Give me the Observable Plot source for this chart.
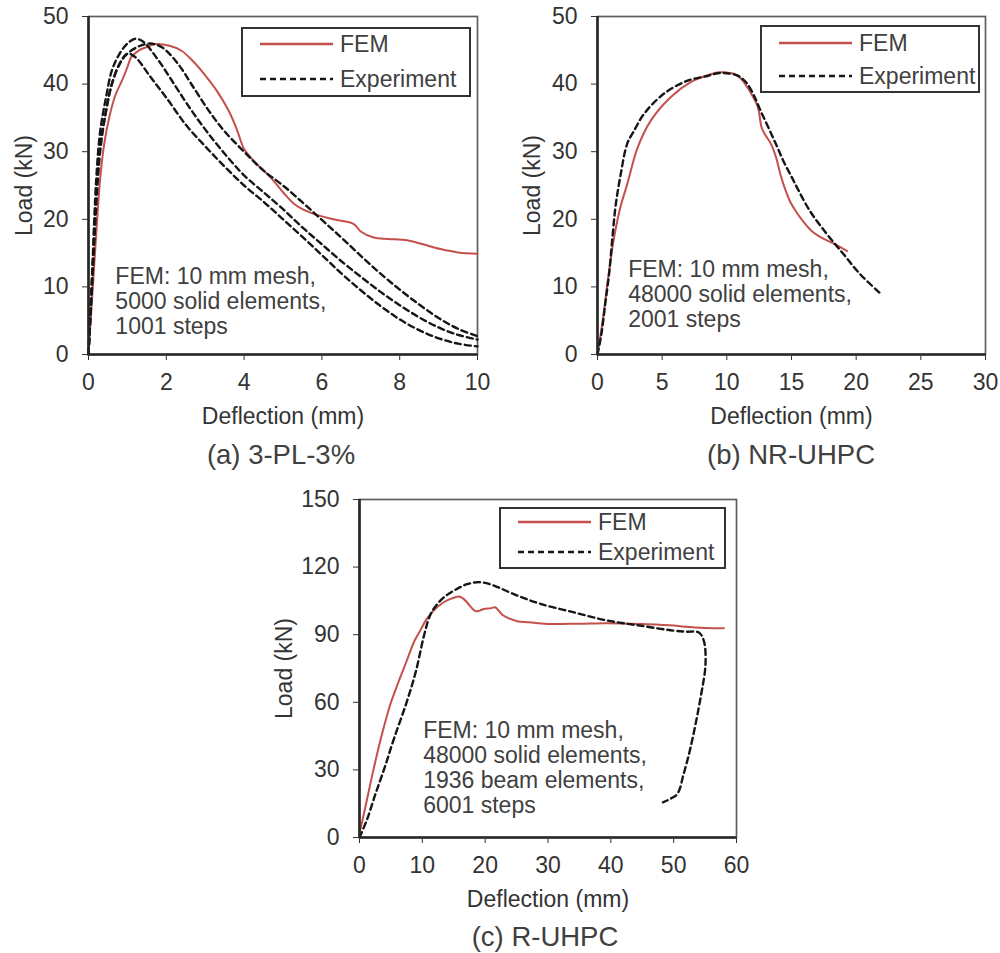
<!DOCTYPE html>
<html><head><meta charset="utf-8">
<script src="https://cdn.jsdelivr.net/npm/d3@7"></script>
<script src="https://cdn.jsdelivr.net/npm/@observablehq/plot@0.6"></script>
<style>
body{margin:0;background:#fff;}
#root{position:relative;width:1000px;height:953px;font-family:"Liberation Sans",Arial,sans-serif;color:#404040;overflow:hidden;}
.panel{position:absolute;}
.caption{position:absolute;font-size:27.5px;transform:translate(-50%,-50%);white-space:nowrap;line-height:1;}
.legend{position:absolute;border:2px solid #333;background:#fff;box-sizing:border-box;}
.legend .lab{position:absolute;font-size:23px;line-height:1;transform:translateY(-50%);white-space:nowrap;}
.legend svg{position:absolute;left:0;top:0;overflow:visible;}
</style></head><body><div id="root"></div>
<script>
// ---------- Panel (a) 3-PL-3% ----------
const aFemX = [0,0.1,0.2,0.3,0.4,0.55,0.7,0.86,1.0,1.1,1.3,1.46,1.7,2.06,2.4,2.7,3.0,3.3,3.6,3.8,3.94,4.0,4.3,4.68,5.0,5.28,5.5,5.79,6.3,6.82,7.0,7.33,7.7,8.19,8.6,9.05,9.5,10];
const aFemY = [0,9,18,26,31,35.5,38.5,40.5,42.5,44,45,45.4,45.9,45.7,44.9,43.3,41.3,39,36.1,33.5,31.2,30.4,28.3,26.2,24,22.3,21.5,20.8,20,19.3,18.2,17.3,17.1,16.9,16.3,15.6,15.1,14.9];
const aExp1X = [0,0.1,0.2,0.3,0.45,0.6,0.8,1.0,1.2,1.6,2.0,2.5,3.0,3.5,4.0,4.5,5.0,5.5,6.0,6.5,7.0,7.5,8.0,8.5,9.0,9.5,10];
const aExp1Y = [0,12,24,31,36,40,43,44.5,44,41,38,34,30.8,27.8,25,22.6,20,17.4,14.7,12,9.5,7.2,5.2,3.6,2.4,1.6,1.2];
const aExp2X = [0,0.1,0.2,0.3,0.45,0.6,0.8,1.0,1.2,1.4,1.8,2.2,2.6,3.0,3.5,4.0,4.5,5.0,5.5,6.0,6.5,7.0,7.5,8.0,8.5,9.0,9.5,10];
const aExp2Y = [0,13,26,33,38,42,44.5,46,46.7,46.3,43.5,40,36.5,33.3,29.7,26.5,24,21.5,18.8,16.3,13.8,11.5,9.3,7.3,5.5,4.0,2.9,2.2];
const aExp3X = [0,0.1,0.2,0.3,0.45,0.6,0.8,1.0,1.3,1.6,1.9,2.3,2.7,3.1,3.5,4.0,4.5,5.0,5.5,6.0,6.5,7.0,7.5,8.0,8.5,9.0,9.5,10];
const aExp3Y = [0,11,22,30,36,40,43,44.5,45.6,46,45.4,43,39.5,36,33,30,27.2,25.0,22.5,19.9,17.3,14.6,12,9.6,7.4,5.4,3.8,2.7];

// ---------- Panel (b) NR-UHPC ----------
const bFemX = [0,0.4,0.8,1.29,1.8,2.3,3.1,4.12,5.67,7.2,8.5,9.28,10.0,10.6,11.1,11.6,12.0,12.4,12.7,13.0,13.4,13.8,14.15,14.5,14.9,15.4,15.9,16.6,17.5,18.4,19.3];
const bFemY = [0,5,11,17.4,22,25.2,30.6,34.6,38.1,40.3,41.3,41.7,41.7,41.5,40.8,39.5,38.2,36.6,33.5,32.4,31.2,29.2,26.6,24.5,22.6,21,19.7,18.2,17.1,16.3,15.3];
const bExpX = [0,0.3,0.6,0.9,1.16,1.4,1.78,2.3,2.8,3.6,5.15,6.96,8.5,9.28,10.0,10.8,11.2,11.6,12.1,12.6,13.3,13.9,14.4,15.0,15.4,16.4,17.7,19.0,20.3,22.0];
const bExpY = [0,3,7.5,12,17.4,22,26.5,31.2,33,35.6,38.6,40.5,41.2,41.6,41.6,41.3,40.8,40.0,38.3,36.1,33.2,30.7,28.5,26.3,24.8,21.3,17.9,14.9,11.9,8.8];

// ---------- Panel (c) R-UHPC ----------
const cFemX = [0,0.5,1.2,2.3,3.5,4.9,6.2,7.6,8.7,9.6,10.7,11.8,13.4,14.6,15.8,16.5,17.1,17.8,18.5,19.2,19.8,21.0,21.6,22.2,22.9,24,25.1,27,29.9,35,39.4,45,50,52,55,58];
const cFemY = [2,8,17,31,45,59,69,79,87,91.5,97,100.7,104.4,106,106.9,106,104.4,102,100.4,100.8,101.4,101.8,102.2,100.5,98.5,97,96,95.5,94.8,94.9,95.1,94.7,94.1,93.5,93,92.9];
const cExpX = [0,1.2,2.5,4.0,5.5,7.5,9.0,10.3,11.3,12.5,14,15.5,17,18.7,20,21.4,25,28.8,34,39.4,44.7,50,52,54,54.8,55.07,54.3,52.7,51.6,50.6,49.5,48.3];
const cExpY = [0,8,19,31,44,60,74,90,99,104,107.8,110.3,112.3,113.3,113,111.8,107.5,103.7,100,96.3,94,91.8,91.3,91,87.3,77.1,62.3,40.1,28.3,19.4,17.2,15.6];

// ---------- Text ----------
const captions = ["(a) 3-PL-3%", "(b) NR-UHPC", "(c) R-UHPC"];
const xLabel = "Deflection (mm)";
const yLabel = "Load (kN)";
const seriesNames = ["FEM", "Experiment"];
const notes = [
  {x: 0.69, y: 13.06, text: "FEM: 10 mm mesh,\n5000 solid elements,\n1001 steps"},
  {x: 2.37, y: 14.05, text: "FEM: 10 mm mesh,\n48000 solid elements,\n2001 steps"},
  {x: 10.13, y: 52.2, text: "FEM: 10 mm mesh,\n48000 solid elements,\n1936 beam elements,\n6001 steps"}
];
const xTicksA = [0,2,4,6,8,10], yTicksA = [0,10,20,30,40,50];
const xTicksB = [0,5,10,15,20,25,30], yTicksB = [0,10,20,30,40,50];
const xTicksC = [0,10,20,30,40,50,60], yTicksC = [0,30,60,90,120,150];

const RED = "#c4504b";
const FONT = "'Liberation Sans', Arial, sans-serif";
const FS = 23;

function rows(xs, ys, run = 0) { return xs.map((x, i) => ({x, y: ys[i], run})); }

const panels = [
  {left: 0, top: 0, w: 490, h: 440, ml: 88, mr: 13, mt: 16, mb: 86, xd: [0,10], yd: [0,50], xt: xTicksA, yt: yTicksA,
   fem: rows(aFemX, aFemY), exp: [...rows(aExp1X, aExp1Y, 1), ...rows(aExp2X, aExp2Y, 2), ...rows(aExp3X, aExp3Y, 3)],
   note: notes[0], ylo: 73, cap: [281, 455, captions[0]], leg: [241, 27, 230, 70, 17, 52]},
  {left: 490, top: 0, w: 510, h: 440, ml: 107, mr: 15, mt: 16, mb: 86, xd: [0,30], yd: [0,50], xt: xTicksB, yt: yTicksB,
   fem: rows(bFemX, bFemY), exp: rows(bExpX, bExpY, 1),
   note: notes[1], ylo: 74, cap: [791, 455, captions[1]], leg: [760, 25, 220, 68, 18, 51]},
  {left: 250, top: 470, w: 506, h: 445, ml: 109, mr: 20, mt: 29, mb: 78, xd: [0,60], yd: [0,150], xt: xTicksC, yt: yTicksC,
   fem: rows(cFemX, cFemY), exp: rows(cExpX, cExpY, 1),
   note: notes[2], ylo: 84, cap: [545, 937, captions[2]], leg: [499, 507, 227, 62, 15, 45]}
];

const root = document.getElementById("root");

for (const p of panels) {
  const chart = Plot.plot({
    width: p.w, height: p.h,
    marginLeft: p.ml, marginRight: p.mr, marginTop: p.mt, marginBottom: p.mb,
    style: {fontFamily: FONT, fontSize: FS + "px", color: "#404040", background: "transparent", overflow: "visible"},
    x: {domain: p.xd},
    y: {domain: p.yd},
    marks: [
      Plot.frame({stroke: "#5e5e5e", strokeWidth: 1.7}),
      Plot.text([p.note], {x: "x", y: "y", text: "text", textAnchor: "start", lineAnchor: "top", lineHeight: 25 / FS, fontSize: FS, fill: "#404040"}),
      Plot.line(p.fem, {x: "x", y: "y", stroke: RED, strokeWidth: 2, curve: "catmull-rom"}),
      Plot.line(p.exp, {x: "x", y: "y", z: "run", stroke: "#161616", strokeWidth: 2.4, strokeDasharray: "6,4", curve: "catmull-rom"}),
      Plot.ruleX([p.xd[0]], {stroke: "#262626", strokeWidth: 2.6}),
      Plot.ruleY([p.yd[0]], {stroke: "#262626", strokeWidth: 2.6}),
      Plot.axisX({ticks: p.xt, tickSize: 6, tickPadding: 13, fontSize: FS, color: "#333",
        label: xLabel, labelAnchor: "center", labelOffset: 69, labelArrow: "none"}),
      Plot.axisY({ticks: p.yt, tickSize: 6, tickPadding: 14, fontSize: FS, color: "#333",
        label: yLabel, labelAnchor: "center", labelOffset: p.ylo, labelArrow: "none"})
    ]
  });
  const wrap = document.createElement("div");
  wrap.className = "panel";
  wrap.style.left = p.left + "px";
  wrap.style.top = p.top + "px";
  wrap.appendChild(chart);
  root.appendChild(wrap);

  // caption below the chart
  const cap = document.createElement("div");
  cap.className = "caption";
  cap.style.left = p.cap[0] + "px";
  cap.style.top = p.cap[1] + "px";
  cap.textContent = p.cap[2];
  root.appendChild(cap);

  // legend box
  const [lx, ly, lw, lh, r1, r2] = p.leg;
  const leg = document.createElement("div");
  leg.className = "legend";
  leg.style.left = lx + "px"; leg.style.top = ly + "px";
  leg.style.width = lw + "px"; leg.style.height = lh + "px";
  const ns = "http://www.w3.org/2000/svg";
  const svg = document.createElementNS(ns, "svg");
  svg.setAttribute("width", lw); svg.setAttribute("height", lh);
  [[r1, RED, null, 2.4], [r2, "#161616", "6,4", 2.4]].forEach(([ry, col, dash, sw]) => {
    const l = document.createElementNS(ns, "line");
    l.setAttribute("x1", 17); l.setAttribute("x2", 90);
    l.setAttribute("y1", ry - 2); l.setAttribute("y2", ry - 2);
    l.setAttribute("stroke", col); l.setAttribute("stroke-width", sw);
    if (dash) l.setAttribute("stroke-dasharray", dash);
    svg.appendChild(l);
  });
  leg.appendChild(svg);
  [[r1, seriesNames[0]], [r2, seriesNames[1]]].forEach(([ry, t]) => {
    const s = document.createElement("div");
    s.className = "lab";
    s.style.left = "97px"; s.style.top = (ry - 2) + "px";
    s.textContent = t;
    leg.appendChild(s);
  });
  root.appendChild(leg);
}
</script>
</body></html>
